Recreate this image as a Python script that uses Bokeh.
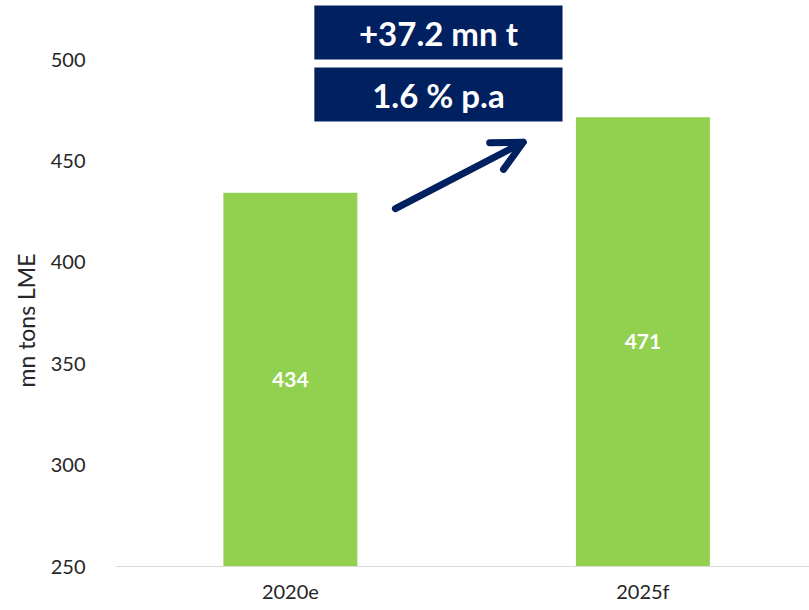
from bokeh.plotting import figure
from bokeh.models import (ColumnDataSource, Range1d, FixedTicker, BoxAnnotation,
                          Label, Arrow, OpenHead, Title)
from bokeh.core.properties import value
from bokeh.embed import file_html
from bokeh.resources import INLINE

# ---- data ----
categories = ["2020e", "2025f"]
values = [434.3, 471.5]
value_labels = ["434", "471"]
change_labels = ["+37.2 mn t", "1.6 % p.a"]
y_ticks = [250, 300, 350, 400, 450, 500]
y_title = "mn tons LME"

FONT = "Lato"
GREEN = "#92D050"
NAVY = "#002060"
TXT = "#262626"

xs = list(range(len(categories)))
src = ColumnDataSource(dict(
    x=xs, top=values, mid=[(250 + v) / 2 for v in values], lab=value_labels))

p = figure(width=809, height=610, output_backend="svg", toolbar_location=None,
           x_range=Range1d(-0.496, 1.4725), y_range=Range1d(250, 529.1),
           min_border_left=115, min_border_right=0, min_border_top=0,
           min_border_bottom=44)
p.outline_line_color = None
p.xgrid.grid_line_color = None
p.ygrid.grid_line_color = None
p.background_fill_color = "white"
p.border_fill_color = "white"

p.vbar(x="x", top="top", bottom=250, width=0.38, source=src,
       fill_color=GREEN, line_color=None)
p.text(x="x", y="mid", text="lab", source=src, text_color="white",
       text_font=value(FONT), text_font_style="bold", text_font_size="21px",
       text_align="center", text_baseline="middle")

# axes
p.xaxis.ticker = FixedTicker(ticks=xs)
p.xaxis.major_label_overrides = {i: c for i, c in enumerate(categories)}
p.xaxis.axis_line_color = "#d9d9d9"
p.xaxis.axis_line_width = 1
p.xaxis.major_tick_line_color = None
p.xaxis.minor_tick_line_color = None
p.xaxis.major_tick_out = 0
p.xaxis.major_tick_in = 0
p.xaxis.major_label_standoff = 12
p.xaxis.major_label_text_font = FONT
p.xaxis.major_label_text_font_size = "20px"
p.xaxis.major_label_text_color = TXT

p.yaxis.ticker = FixedTicker(ticks=y_ticks)
p.yaxis.axis_line_color = None
p.yaxis.major_tick_line_color = None
p.yaxis.minor_tick_line_color = None
p.yaxis.major_tick_out = 0
p.yaxis.major_tick_in = 0
p.yaxis.major_label_standoff = 30
p.yaxis.major_label_text_font = FONT
p.yaxis.major_label_text_font_size = "20px"
p.yaxis.major_label_text_color = TXT

# y-axis title as a side title (allows shifting it along the axis)
t = Title(text=y_title, align="left", offset=179, standoff=15,
          text_font=FONT, text_font_size="23px", text_font_style="normal",
          text_color=TXT)
p.add_layout(t, "left")

# annotation boxes
box_specs = [(500.0, 526.6), (469.4, 496.05)]
for (b, tp), txt in zip(box_specs, change_labels):
    p.add_layout(BoxAnnotation(left=0.068, right=0.772, bottom=b, top=tp,
                               fill_color=NAVY, fill_alpha=1, line_color=None))
    p.add_layout(Label(x=(0.068 + 0.772) / 2, y=(b + tp) / 2, text=txt,
                       text_color="white", text_font=FONT, text_font_style="bold",
                       text_font_size="33px", text_align="center",
                       text_baseline="middle"))

# arrow
p.add_layout(Arrow(x_start=0.298, y_start=426.5, x_end=0.6605, y_end=459.2,
                   line_color=NAVY, line_width=7, line_cap="round",
                   end=OpenHead(size=30, line_color=NAVY, line_width=7,
                                line_cap="round", line_join="round")))

open("out.html", "w").write(file_html(p, INLINE))
